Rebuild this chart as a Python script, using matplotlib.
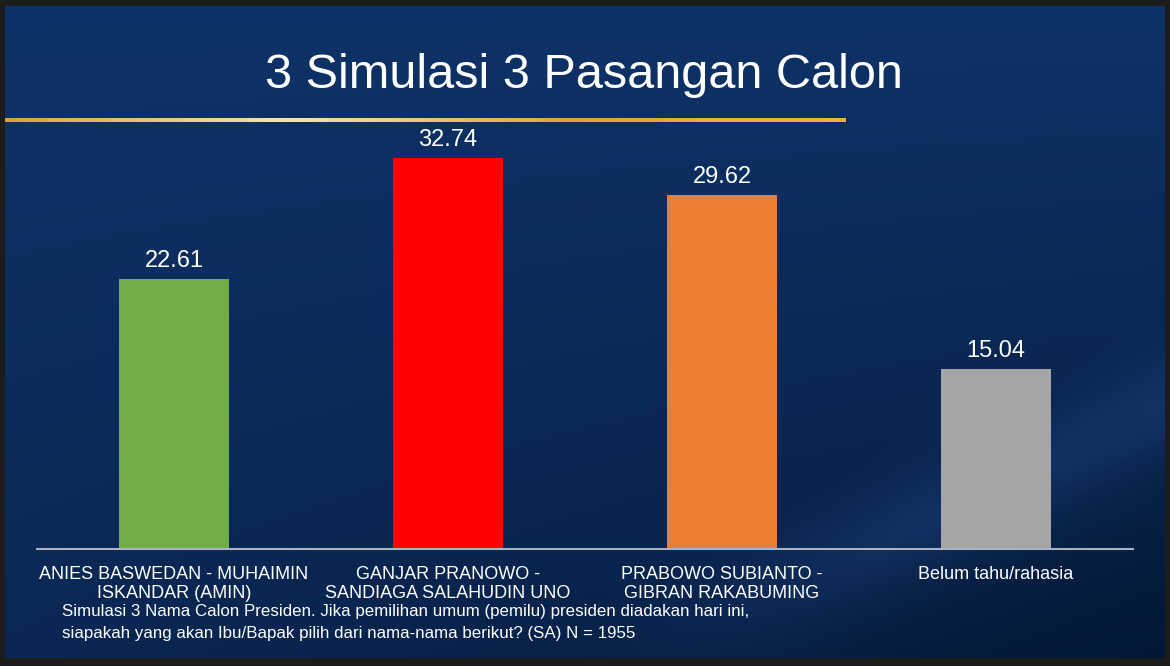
import numpy as np
import matplotlib.pyplot as plt
from matplotlib.colors import LinearSegmentedColormap

plt.rcParams['font.family'] = ['Liberation Sans', 'DejaVu Sans']

# data
categories = ['ANIES BASWEDAN - MUHAIMIN\nISKANDAR (AMIN)',
              'GANJAR PRANOWO -\nSANDIAGA SALAHUDIN UNO',
              'PRABOWO SUBIANTO -\nGIBRAN RAKABUMING',
              'Belum tahu/rahasia']
values = [22.61, 32.74, 29.62, 15.04]
bar_colors = ['#70ad47', '#ff0000', '#ed7d31', '#a5a5a5']

title = '3 Simulasi 3 Pasangan Calon'
note = ('Simulasi 3 Nama Calon Presiden. Jika pemilihan umum (pemilu) presiden diadakan hari ini,\n'
        'siapakah yang akan Ibu/Bapak pilih dari nama-nama berikut? (SA) N = 1955')

W, H = 1170, 666
fig = plt.figure(figsize=(W / 100, H / 100), dpi=100)
fig.patch.set_facecolor('#1c1c1c')

# background slide (pixel coordinates)
bg = fig.add_axes([0, 0, 1, 1])
bg.axis('off')

px, py = np.meshgrid(np.linspace(5, 1165, 400), np.linspace(6, 658, 240))
xx, yy = px / W, py / H
top = np.array([0x0e, 0x33, 0x68]) / 255
bot = np.array([0x06, 0x1c, 0x3e]) / 255
t = np.clip(0.5 * yy + 0.5 * xx * yy, 0, 1)[..., None]
img = top * (1 - t) + bot * t
# soft swoosh bottom right: light streak along a curve, slightly darker below
curve = 660 - 0.0608 * np.clip(px - 600, 0, None) ** 1.3
d = curve - py
fade = np.clip((px - 600) / 300, 0, 1)
light = np.exp(-((d - 25) / 50.0) ** 2) * fade
dark = np.clip(-d / 150, 0, 1) * fade
img = img + light[..., None] * np.array([0.035, 0.05, 0.085]) - dark[..., None] * np.array([0.01, 0.015, 0.03])
bg.imshow(np.clip(img, 0, 1), extent=(5, 1165, 658, 6), aspect='auto', zorder=0, interpolation='bilinear')

# gold rule under title
gold = LinearSegmentedColormap.from_list('gold', ['#d9a33a', '#f5e6b0', '#e0a53a', '#f0b23c'])
bg.imshow(np.linspace(0, 1, 256)[None, :], cmap=gold, extent=(5, 846, 122, 118), aspect='auto', zorder=1)

bg.set_xlim(0, W)
bg.set_ylim(H, 0)

bg.text(584, 75, title, color='white', fontsize=35, ha='center', va='center')
bg.text(62, 604, note, color='white', fontsize=12.2, ha='left', va='top', linespacing=1.6)

# bar chart
ax = fig.add_axes([37 / W, 117 / H, 1096 / W, 418 / H])
ax.set_facecolor('none')
x = np.arange(len(values))
bars = ax.bar(x, values, width=0.4, color=bar_colors, zorder=2)
ax.set_xlim(-0.5, len(values) - 0.5)
ax.set_ylim(0, 35)

for b, v in zip(bars, values):
    ax.annotate(f'{v:.2f}', (b.get_x() + b.get_width() / 2, v), xytext=(0, 5),
                textcoords='offset points', ha='center', va='bottom',
                color='white', fontsize=17)

ax.set_xticks(x)
ax.set_xticklabels(categories, color='white', fontsize=13, linespacing=1.15)
ax.tick_params(axis='x', length=0, pad=12)
ax.set_yticks([])
for s in ['top', 'right', 'left']:
    ax.spines[s].set_visible(False)
ax.spines['bottom'].set_color('#a9b2c3')
ax.spines['bottom'].set_linewidth(1.5)

plt.savefig('out.png', dpi=100, facecolor=fig.get_facecolor())
